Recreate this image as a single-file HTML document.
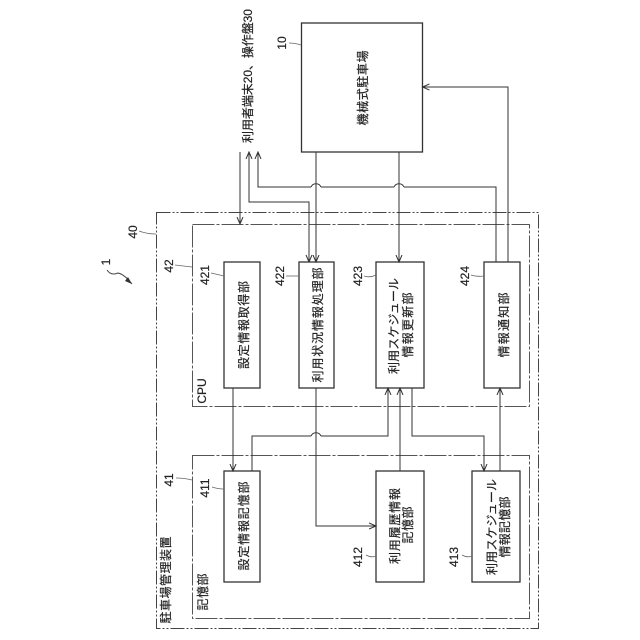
<!DOCTYPE html>
<html>
<head>
<meta charset="utf-8">
<style>
html,body{margin:0;padding:0;background:#fff;width:640px;height:640px;overflow:hidden}
svg{display:block}
text{font-family:"Liberation Sans","Noto Sans CJK JP",sans-serif;fill:#222;stroke:#222;stroke-width:.2;text-anchor:middle}
</style>
</head>
<body>
<svg width="640" height="640" viewBox="0 0 640 640" xmlns="http://www.w3.org/2000/svg">
<defs>
<marker id="a" markerWidth="8" markerHeight="8" refX="7" refY="3.5" orient="auto" markerUnits="userSpaceOnUse"><path d="M0,0.5 L7,3.5 L0,6.5" fill="none" stroke="#333" stroke-width="1"/></marker>
<marker id="b" markerWidth="8" markerHeight="8" refX="0" refY="3.5" orient="auto" markerUnits="userSpaceOnUse"><path d="M7,0.5 L0,3.5 L7,6.5" fill="none" stroke="#333" stroke-width="1"/></marker>
</defs>
<g fill="none" stroke="#444" stroke-width="1" stroke-dasharray="14 2 2 2 2 2">
<rect x="156.5" y="212.5" width="382" height="416"/>
</g>
<g fill="none" stroke="#555" stroke-width="1" stroke-dasharray="22 2 3 2">
<rect x="192.5" y="224.5" width="337" height="182"/>
<rect x="192.5" y="455.5" width="337" height="163"/>
</g>
<g fill="#fff" stroke="#333" stroke-width="1.3">
<rect x="301.5" y="23" width="121" height="129"/>
<rect x="224" y="262" width="36" height="126"/>
<rect x="299" y="262" width="35" height="126"/>
<rect x="376" y="262" width="48" height="126"/>
<rect x="484" y="262" width="36" height="126"/>
<rect x="224" y="471" width="36" height="111"/>
<rect x="376" y="471" width="48" height="111"/>
<rect x="472" y="471" width="48" height="111"/>
</g>
<g fill="none" stroke="#333" stroke-width="1">
<path d="M240 152V224" marker-end="url(#a)"/>
<path d="M309 262V202H249V152" marker-end="url(#a)" marker-start="url(#b)"/>
<path d="M496 262V187H404M394 187H321M311 187H258V152" marker-end="url(#a)"/>
<path d="M316 152V262" marker-end="url(#a)"/>
<path d="M399 152V262" marker-end="url(#a)"/>
<path d="M508 262V87H422.500" marker-end="url(#a)"/>
<path d="M233 388V471" marker-end="url(#a)"/>
<path d="M252 471V436H311M321 436H388V388" marker-end="url(#a)"/>
<path d="M316 388V526H376" marker-end="url(#a)"/>
<path d="M400 471V388" marker-end="url(#a)"/>
<path d="M412 388V436H484V471" marker-end="url(#a)"/>
<path d="M500 471V388" marker-end="url(#a)"/>
<path d="M311 187A5.500 5.500 0 0 1 321 187"/>
<path d="M394 187A5.500 5.500 0 0 1 404 187"/>
<path d="M311 436A5.500 5.500 0 0 1 321 436"/>
</g>
<g fill="none" stroke="#666" stroke-width="0.8">
<path d="M289 43Q295 43 301 45"/>
<path d="M139 231Q147 234 156 234"/>
<path d="M175 265L192 267"/>
<path d="M211 273L224 276"/>
<path d="M286 276L299 276"/>
<path d="M364 276Q370 278 376 275"/>
<path d="M471 275Q477 277 484 276"/>
<path d="M176 478Q184 478 192 480"/>
<path d="M212 487Q218 489 224 489"/>
<path d="M366 555Q371 558 376 556"/>
<path d="M462 555Q467 558 472 556"/>
</g>
<path d="M107 270Q111 276 118 273Q124 274 132 284" fill="none" stroke="#444" stroke-width="1"/>
<path d="M132 284L125 281L128 277Z" fill="#333"/>

<g font-size="12">
<text transform="translate(252,76) rotate(-90)" textLength="134" lengthAdjust="spacing">利用者端末20、操作盤30</text>
<text transform="translate(367,88) rotate(-90)" textLength="75" lengthAdjust="spacing">機械式駐車場</text>
<text transform="translate(248,325) rotate(-90)" textLength="88" lengthAdjust="spacing">設定情報取得部</text>
<text transform="translate(322,325) rotate(-90)" textLength="115" lengthAdjust="spacing">利用状況情報処理部</text>
<text transform="translate(398,326) rotate(-90)" textLength="96" lengthAdjust="spacing">利用スケジュール</text>
<text transform="translate(412,325) rotate(-90)" textLength="65" lengthAdjust="spacing">情報更新部</text>
<text transform="translate(508,325) rotate(-90)" textLength="65" lengthAdjust="spacing">情報通知部</text>
<text transform="translate(248,526) rotate(-90)" textLength="89" lengthAdjust="spacing">設定情報記憶部</text>
<text transform="translate(399,526) rotate(-90)" textLength="76" lengthAdjust="spacing">利用履歴情報</text>
<text transform="translate(412,525) rotate(-90)" textLength="37" lengthAdjust="spacing">記憶部</text>
<text transform="translate(496,527) rotate(-90)" textLength="96" lengthAdjust="spacing">利用スケジュール</text>
<text transform="translate(509,527) rotate(-90)" textLength="61" lengthAdjust="spacing">情報記憶部</text>
<text transform="translate(170,580) rotate(-90)" textLength="87" lengthAdjust="spacing">駐車場管理装置</text>
<text transform="translate(207,592) rotate(-90)" textLength="37" lengthAdjust="spacing">記憶部</text>
<text transform="translate(206,391) rotate(-90)">CPU</text>
<text transform="translate(286,43) rotate(-90)">10</text>
<text transform="translate(137,232) rotate(-90)">40</text>
<text transform="translate(110,262) rotate(-90)">1</text>
<text transform="translate(173,266) rotate(-90)">42</text>
<text transform="translate(209,275) rotate(-90)">421</text>
<text transform="translate(284,276) rotate(-90)">422</text>
<text transform="translate(362,276) rotate(-90)">423</text>
<text transform="translate(469,276) rotate(-90)">424</text>
<text transform="translate(173,480) rotate(-90)">41</text>
<text transform="translate(209,488) rotate(-90)">411</text>
<text transform="translate(362,557) rotate(-90)">412</text>
<text transform="translate(458,557) rotate(-90)">413</text>
</g>
</svg>
</body>
</html>
